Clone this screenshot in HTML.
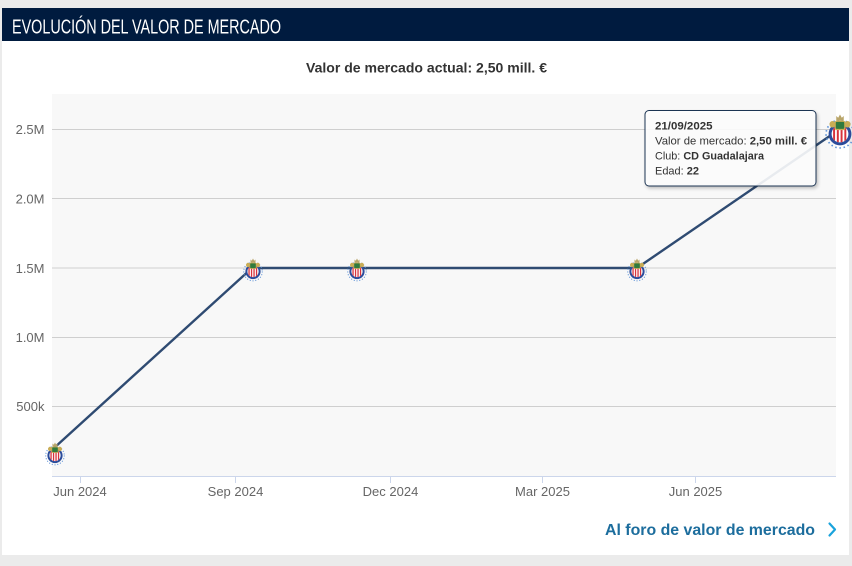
<!DOCTYPE html>
<html>
<head>
<meta charset="utf-8">
<style>
  html,body{margin:0;padding:0;background:#ebebeb;}
  body{width:852px;height:566px;overflow:hidden;}
  svg{display:block;}
  text{font-family:"Liberation Sans", sans-serif;}
</style>
</head>
<body>
<svg width="852" height="566" viewBox="0 0 852 566" xmlns="http://www.w3.org/2000/svg">
  <defs>
    <clipPath id="inner"><circle cx="0" cy="0" r="5.6"/></clipPath>
    <g id="crest">
      <circle cx="0" cy="0" r="9.3" fill="none" stroke="#5d92d6" stroke-width="1.1" stroke-dasharray="1 1.8"/>
      <circle cx="0" cy="0" r="7.6" fill="#2b4c9b"/>
      <g clip-path="url(#inner)">
        <rect x="-6" y="-6" width="12" height="12" fill="#ffffff"/>
        <rect x="-4.6" y="-6" width="1.3" height="12" fill="#d7323c"/>
        <rect x="-2.1" y="-6" width="1.3" height="12" fill="#d7323c"/>
        <rect x="0.4" y="-6" width="1.3" height="12" fill="#d7323c"/>
        <rect x="2.9" y="-6" width="1.3" height="12" fill="#d7323c"/>
      </g>
      <ellipse cx="-5" cy="-6.5" rx="2" ry="2.2" fill="#c9ad55"/>
      <ellipse cx="5" cy="-6.5" rx="2" ry="2.2" fill="#c9ad55"/>
      <rect x="-3.2" y="-8.5" width="6.4" height="5.5" rx="1" fill="#2f7a3e" stroke="#c9ad55" stroke-width="0.8"/>
      <polygon points="-2.5,-9 -2.5,-12 -1.2,-10.8 0,-13 1.2,-10.8 2.5,-12 2.5,-9" fill="#b9a56a"/>
    </g>
    <filter id="sh" x="-10%" y="-10%" width="130%" height="140%">
      <feDropShadow dx="1.5" dy="2" stdDeviation="1.5" flood-color="#000" flood-opacity="0.25"/>
    </filter>
  </defs>

  <!-- card -->
  <rect x="2" y="8" width="847" height="547" fill="#ffffff"/>
  <rect x="2" y="8" width="847" height="33" fill="#001b3f"/>
  <text x="12" y="33.3" font-size="20" fill="#ffffff" textLength="269" lengthAdjust="spacingAndGlyphs">EVOLUCIÓN DEL VALOR DE MERCADO</text>

  <text x="306" y="72.5" font-size="13.5" font-weight="bold" fill="#333333" textLength="241" lengthAdjust="spacingAndGlyphs">Valor de mercado actual: 2,50 mill. €</text>

  <!-- plot area -->
  <rect x="52" y="94" width="784" height="382" fill="#f8f8f8"/>
  <g stroke="#cfcfcf" stroke-width="1">
    <line x1="52" y1="129.5" x2="836" y2="129.5"/>
    <line x1="52" y1="198.5" x2="836" y2="198.5"/>
    <line x1="52" y1="268" x2="836" y2="268"/>
    <line x1="52" y1="337.5" x2="836" y2="337.5"/>
    <line x1="52" y1="406.5" x2="836" y2="406.5"/>
  </g>
  <line x1="52" y1="476.5" x2="836" y2="476.5" stroke="#ccd6eb" stroke-width="1"/>
  <g stroke="#ccd6eb" stroke-width="1">
    <line x1="80.5" y1="476" x2="80.5" y2="483"/>
    <line x1="235.5" y1="476" x2="235.5" y2="483"/>
    <line x1="390.5" y1="476" x2="390.5" y2="483"/>
    <line x1="542.5" y1="476" x2="542.5" y2="483"/>
    <line x1="695.5" y1="476" x2="695.5" y2="483"/>
  </g>

  <!-- y labels -->
  <g font-size="13" fill="#666666" text-anchor="end">
    <text x="44.5" y="134">2.5M</text>
    <text x="44.5" y="203.5">2.0M</text>
    <text x="44.5" y="273">1.5M</text>
    <text x="44.5" y="342">1.0M</text>
    <text x="44.5" y="411">500k</text>
  </g>
  <!-- x labels -->
  <g font-size="13" fill="#666666" text-anchor="middle">
    <text x="80" y="496">Jun 2024</text>
    <text x="235.5" y="496">Sep 2024</text>
    <text x="390.5" y="496">Dec 2024</text>
    <text x="542.5" y="496">Mar 2025</text>
    <text x="695.5" y="496">Jun 2025</text>
  </g>

  <!-- series -->
  <polyline points="54,448 252,268 357,268 637,268 840,129" fill="none" stroke="#2f4b72" stroke-width="2.4" stroke-linejoin="round"/>

  <use href="#crest" transform="translate(55,455.5)"/>
  <use href="#crest" transform="translate(253,271.5)"/>
  <use href="#crest" transform="translate(357,271.5)"/>
  <use href="#crest" transform="translate(637,271.5)"/>

  <!-- tooltip -->
  <rect x="645" y="110.5" width="171" height="75.5" rx="4" ry="4" fill="rgba(255,255,255,0.88)" stroke="#1e3553" stroke-width="1" filter="url(#sh)"/>
  <g font-size="11" fill="#333333">
    <text x="655" y="129.5" font-weight="bold" textLength="57.5" lengthAdjust="spacingAndGlyphs">21/09/2025</text>
    <text x="655" y="144.5" textLength="152" lengthAdjust="spacingAndGlyphs">Valor de mercado: <tspan font-weight="bold">2,50 mill. €</tspan></text>
    <text x="655" y="159.5" textLength="109" lengthAdjust="spacingAndGlyphs">Club: <tspan font-weight="bold">CD Guadalajara</tspan></text>
    <text x="655" y="174.5" textLength="44" lengthAdjust="spacingAndGlyphs">Edad: <tspan font-weight="bold">22</tspan></text>
  </g>

  <use href="#crest" transform="translate(840,134) scale(1.5)"/>

  <!-- link -->
  <text x="605" y="535" font-size="16" font-weight="bold" fill="#1c6d9d" textLength="210" lengthAdjust="spacingAndGlyphs">Al foro de valor de mercado</text>
  <polyline points="829.5,523.5 835,529.5 829.5,535.5" fill="none" stroke="#1aa3dc" stroke-width="2.2" stroke-linecap="round" stroke-linejoin="round"/>
</svg>
</body>
</html>
